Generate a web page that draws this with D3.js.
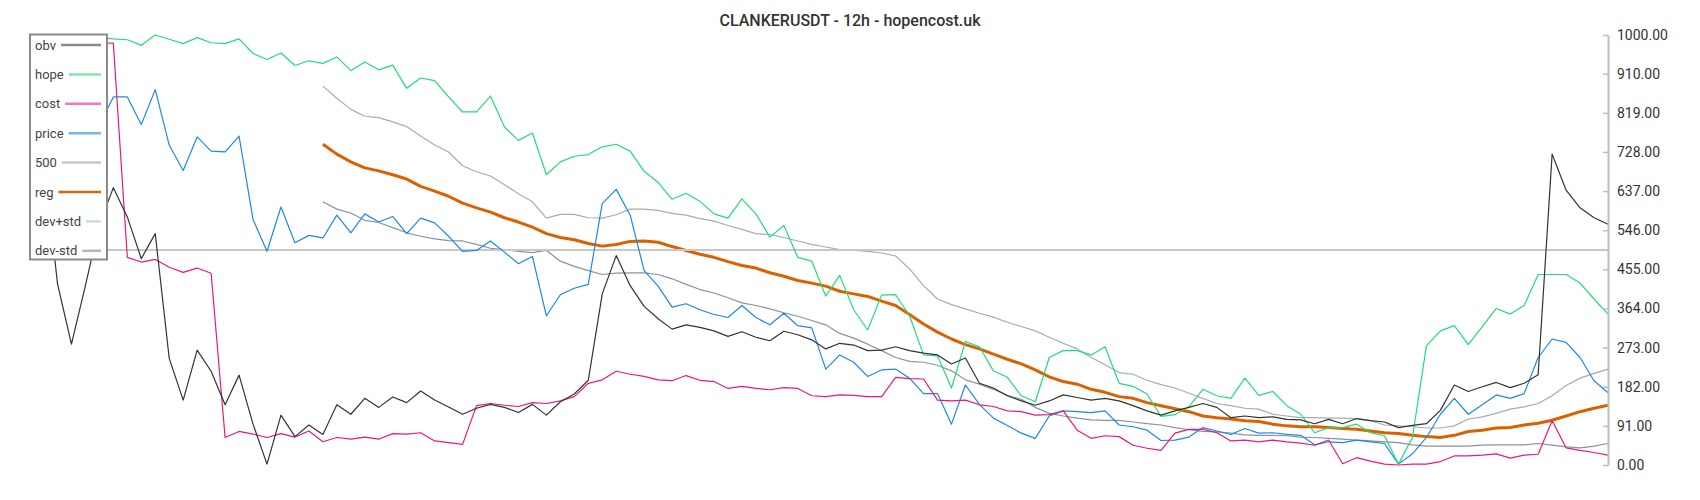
<!DOCTYPE html>
<html>
<head>
<meta charset="utf-8">
<script src="https://cdn.jsdelivr.net/npm/d3@7"></script>
<style>
  body { margin: 0; background: #fff; }
  svg { display: block; font-family: Roboto, "Noto Sans", sans-serif; }
</style>
</head>
<body>
<svg id="chart" width="1700" height="500"></svg>
<script>
const chartTitle = "CLANKERUSDT - 12h - hopencost.uk";
const yTicks = [0, 91, 182, 273, 364, 455, 546, 637, 728, 819, 910, 1000];

// one value per 12h candle, 113 candles
const obv = [720, 422, 281, 417, 560, 645, 577, 480, 538, 248, 151, 267, 218, 140, 209,
  95, 2, 116, 66, 93, 71, 140, 118, 155, 134, 158, 145, 172, 151, 135, 118, 132, 141, 134,
  122, 141, 116, 147, 165, 197, 398, 487, 417, 369, 340, 316, 326, 320, 312, 299, 310, 297,
  289, 311, 303, 291, 270, 283, 279, 266, 267, 275, 266, 260, 256, 235, 249, 190, 179, 161, 149,
  139, 149, 163, 157, 151, 155, 149, 138, 126, 116, 126, 134, 143, 134, 110, 114, 110, 112,
  106, 105, 96, 106, 96, 108, 103, 100, 87, 92, 96, 127, 186, 171, 182, 192, 180, 190, 210, 723,
  639, 598, 575, 560];
const hope = [985, 992, 990, 998, 994, 991, 989, 976, 1000, 990, 980, 994, 982, 980, 991,
  957, 943, 958, 929, 940, 934, 949, 917, 937, 919, 930, 876, 900, 894, 856, 821, 821, 858, 786,
  755, 772, 675, 705, 718, 722, 740, 746, 730, 683, 657, 618, 632, 613, 584, 574, 619, 584,
  530, 557, 483, 474, 393, 441, 361, 314, 395, 396, 347, 256, 254, 179, 287, 275, 219, 204, 161,
  147, 250, 266, 266, 256, 275, 190, 183, 165, 113, 117, 136, 176, 161, 155, 202, 162, 171,
  138, 118, 75, 87, 87, 95, 75, 68, 2, 64, 277, 312, 324, 280, 322, 364, 351, 371, 443, 443,
  443, 423, 386, 351];
const cost = [975, 985, 980, 985, 982, 981, 483, 472, 478, 460, 448, 458, 446, 64, 78,
  72, 64, 73, 65, 79, 54, 64, 60, 65, 60, 73, 72, 75, 56, 52, 48, 138, 143, 139,
  136, 145, 143, 149, 159, 190, 198, 218, 211, 206, 198, 196, 208, 197, 194, 178, 183, 178,
  175, 180, 178, 161, 159, 163, 162, 159, 159, 204, 201, 200, 151, 149, 151, 140, 136, 126, 124,
  116, 117, 126, 81, 62, 68, 66, 46, 39, 34, 74, 83, 83, 75, 56, 58, 54, 58,
  54, 51, 46, 58, 3, 17, 9, 2, 0, 2, 2, 8, 21, 21, 23, 26, 16, 23, 25, 103,
  40, 34, 29, 23];
const price = [830, 860, 845, 870, 790, 856, 856, 792, 873, 744, 685, 763, 730, 728, 765,
  571, 497, 600, 517, 534, 528, 581, 540, 584, 565, 578, 538, 574, 563, 532, 497, 499, 521, 495,
  468, 485, 347, 396, 411, 420, 608, 641, 581, 452, 416, 367, 375, 361, 350, 343, 371, 343,
  326, 353, 324, 319, 223, 256, 239, 206, 221, 223, 202, 166, 166, 95, 186, 141, 109, 92, 74,
  62, 114, 126, 124, 122, 126, 93, 89, 81, 57, 58, 65, 87, 79, 71, 85, 74, 75,
  71, 69, 47, 54, 52, 58, 54, 50, 2, 26, 64, 118, 155, 118, 140, 163, 155, 166, 250, 293,
  285, 250, 196, 168];
const level500 = 500;

// regression line and its bands only begin at candle 20
const bandStart = 20;
const reg = [746, 723, 705, 691, 684, 675, 665, 648, 637, 625, 609, 598, 588, 575,
  565, 553, 538, 529, 524, 515, 509, 513, 520, 521, 518, 508, 499, 490, 483, 473, 464, 458,
  447, 439, 429, 423, 416, 404, 398, 392, 381, 371, 350, 328, 309, 293, 280, 270, 258, 246, 235,
  221, 205, 194, 188, 176, 169, 159, 155, 145, 138, 131, 124, 114, 110, 107, 103, 101, 95,
  91, 89, 89, 87, 85, 83, 79, 75, 73, 69, 66, 64, 69, 78, 81, 86, 87, 93, 97, 104,
  114, 124, 132, 139];
const devPlus = [881, 853, 827, 811, 808, 798, 787, 765, 744, 728, 696, 682, 672, 652,
  631, 612, 574, 583, 583, 575, 574, 582, 595, 595, 592, 585, 581, 573, 567, 557, 548, 538,
  536, 529, 521, 513, 507, 501, 499, 497, 493, 486, 456, 417, 386, 373, 363, 353, 344, 332, 322,
  312, 297, 283, 270, 250, 233, 215, 211, 197, 187, 179, 167, 155, 143, 138, 132, 130, 118,
  114, 110, 110, 109, 109, 108, 103, 93, 91, 89, 86, 86, 91, 107, 112, 120, 130, 135, 143, 161,
  185, 202, 213, 223];
const devMinus = [612, 595, 586, 569, 564, 552, 540, 532, 526, 522, 521, 513, 504, 501,
  497, 494, 499, 474, 462, 452, 443, 446, 447, 447, 443, 433, 420, 408, 400, 389, 377, 371,
  363, 354, 346, 336, 326, 306, 295, 281, 266, 250, 241, 239, 232, 219, 198, 188, 176, 162, 153,
  134, 120, 114, 109, 105, 104, 104, 100, 96, 93, 87, 82, 78, 77, 74, 70, 69, 69,
  68, 65, 64, 62, 60, 58, 56, 54, 52, 47, 44, 44, 44, 44, 46, 47, 47, 47, 50, 46,
  42, 40, 44, 50];

const plot = { left: 43.5, right: 1608, top: 35, bottom: 465 };

const svg = d3.select("#chart");
const n = obv.length;

const xScale = d3.scaleLinear().domain([0, n - 1]).range([plot.left, plot.right]);
const yScale = d3.scaleLinear().domain([0, 1000]).range([plot.bottom, plot.top]);

const series = [
  { name: "obv", values: obv, start: 0, color: "#333333", swatch: "#8c8c8c", width: 1.2 },
  { name: "hope", values: hope, start: 0, color: "#22dd77", swatch: "#80e8ac", width: 1.2 },
  { name: "cost", values: cost, start: 0, color: "#e8197c", swatch: "#ef7ab4", width: 1.2 },
  { name: "price", values: price, start: 0, color: "#1e88e5", swatch: "#78b6ee", width: 1.2 },
  { name: "500", values: null, start: 0, color: "#c8c8c8", swatch: "#c8c8c8", width: 2.2 },
  { name: "reg", values: reg, start: bandStart, color: "#db6100", swatch: "#d66510", width: 3 },
  { name: "dev+std", values: devPlus, start: bandStart, color: "#a3adb5", swatch: "#d2d9dd", width: 1.2 },
  { name: "dev-std", values: devMinus, start: bandStart, color: "#8695a0", swatch: "#aab7be", width: 1.2 },
];

// title
svg.append("text")
  .attr("x", 850)
  .attr("y", 26)
  .attr("text-anchor", "middle")
  .attr("font-size", 16)
  .attr("font-weight", 500)
  .attr("fill", "#333")
  .text(chartTitle);

// lines, first dataset ends up on top
const lines = svg.append("g").attr("fill", "none")
  .attr("stroke-linejoin", "round");

series.slice().reverse().forEach((s) => {
  if (s.values === null) {
    lines.append("line")
      .attr("x1", xScale(0))
      .attr("x2", xScale(n - 1))
      .attr("y1", yScale(level500))
      .attr("y2", yScale(level500))
      .attr("stroke", s.color)
      .attr("stroke-width", s.width);
    return;
  }
  const line = d3.line()
    .x((d, i) => xScale(i + s.start))
    .y((d) => yScale(d));
  lines.append("path")
    .attr("d", line(s.values))
    .attr("stroke", s.color)
    .attr("stroke-width", s.width);
});

// y axis on the right
const yAxis = svg.append("g")
  .attr("transform", `translate(${plot.right},0)`)
  .call(d3.axisRight(yScale)
    .tickValues(yTicks)
    .tickFormat((d) => d.toFixed(2))
    .tickSizeInner(-5)
    .tickSizeOuter(0)
    .tickPadding(9));

yAxis.select(".domain").attr("stroke", "#b6c0c6").attr("stroke-width", 2);
yAxis.selectAll(".tick line").attr("stroke", "#b6c0c6").attr("stroke-width", 1.5);
yAxis.selectAll(".tick text")
  .attr("font-family", "Roboto, sans-serif")
  .attr("font-size", 14)
  .attr("fill", "#333");

// legend box drawn over the left end of the lines
const legend = svg.append("g");
legend.append("rect")
  .attr("x", 30)
  .attr("y", 34.5)
  .attr("width", 77)
  .attr("height", 225)
  .attr("fill", "#fff")
  .attr("stroke", "#8a8a8a")
  .attr("stroke-width", 2);

series.forEach((s, i) => {
  const cy = 45 + i * 29.4;
  const label = legend.append("text")
    .attr("x", 35)
    .attr("y", cy + 4.5)
    .attr("font-size", 13)
    .attr("fill", "#444")
    .text(s.name);
  const textEnd = 35 + label.node().getComputedTextLength();
  legend.append("line")
    .attr("x1", textEnd + 5)
    .attr("x2", 101)
    .attr("y1", cy)
    .attr("y2", cy)
    .attr("stroke", s.swatch)
    .attr("stroke-width", 2.5);
});
</script>
</body>
</html>
